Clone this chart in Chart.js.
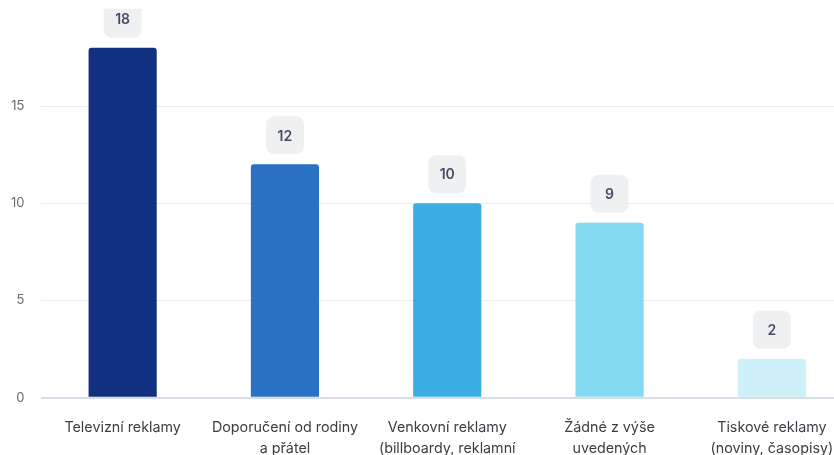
<!DOCTYPE html>
<html>
<head>
<meta charset="utf-8">
<script src="https://cdn.jsdelivr.net/npm/chart.js@4/dist/chart.umd.min.js"></script>
<style>
  html, body { margin: 0; padding: 0; background: #ffffff; overflow: hidden; }
  #wrap { width: 866px; height: 516px; margin-left: -6px; margin-top: -16px; }
</style>
</head>
<body>
<div id="wrap"><canvas id="chart" width="866" height="516"></canvas></div>
<script>
// Categories (wrapped onto several lines) and their counts
const categories = [
  ["Televizní reklamy"],
  ["Doporučení od rodiny", "a přátel"],
  ["Venkovní reklamy", "(billboardy, reklamní", "plochy)"],
  ["Žádné z výše", "uvedených"],
  ["Tiskové reklamy", "(noviny, časopisy)"]
];
const counts = [18, 12, 10, 9, 2];
const barColors = ["#11307f", "#2a70c3", "#3aade3", "#83d8f2", "#cdf0f9"];
const yTicks = [0, 5, 10, 15];

// Draws a rounded grey badge with the value above each bar
const valueBadges = {
  id: "valueBadges",
  afterDatasetsDraw(chart) {
    const ctx = chart.ctx;
    const area = chart.chartArea;
    const meta = chart.getDatasetMeta(0);
    ctx.save();
    ctx.beginPath();
    ctx.rect(area.left, area.top, area.right - area.left, area.bottom - area.top);
    ctx.clip();
    meta.data.forEach((bar, i) => {
      const w = 38, h = 38, r = 8;
      const x = bar.x - w / 2;
      const y = bar.y - 10 - h;
      ctx.beginPath();
      ctx.roundRect(x, y, w, h, r);
      ctx.fillStyle = "#eff0f1";
      ctx.fill();
      ctx.fillStyle = "#4b4a66";
      ctx.font = "600 14px Inter, 'Noto Sans', sans-serif";
      ctx.textAlign = "center";
      ctx.textBaseline = "middle";
      ctx.fillText(String(counts[i]), bar.x, y + h / 2 + 1);
    });
    ctx.restore();
  }
};

new Chart(document.getElementById("chart"), {
  type: "bar",
  data: {
    labels: categories,
    datasets: [{
      data: counts,
      backgroundColor: barColors,
      borderRadius: 3,
      borderSkipped: "bottom",
      barPercentage: 0.6,
      categoryPercentage: 0.7
    }]
  },
  options: {
    responsive: false,
    devicePixelRatio: 1,
    animation: false,
    layout: { padding: { top: 0, left: 0, right: 7, bottom: 0 } },
    plugins: { legend: { display: false }, tooltip: { enabled: false } },
    scales: {
      x: {
        grid: { display: false, drawTicks: false },
        border: { display: false },
        ticks: {
          color: "#3d3d45",
          padding: 19,
          maxRotation: 0,
          autoSkip: false,
          font: { family: "Inter, 'Noto Sans', sans-serif", size: 14.3, lineHeight: 1.5 }
        }
      },
      y: {
        min: 0,
        max: 20,
        grid: {
          drawTicks: false,
          color: (c) => c.tick && c.tick.value === 0 ? "#d8dee8" : (yTicks.includes(c.tick && c.tick.value) ? "#ebebeb" : "rgba(0,0,0,0)"),
          lineWidth: (c) => c.tick && c.tick.value === 0 ? 2 : 1
        },
        border: { display: false },
        ticks: {
          stepSize: 5,
          padding: 17,
          color: "#6a6a72",
          font: { family: "Inter, 'Noto Sans', sans-serif", size: 13 },
          callback: (v) => yTicks.includes(v) ? String(v) : ""
        }
      }
    }
  },
  plugins: [valueBadges]
});
</script>
</body>
</html>
